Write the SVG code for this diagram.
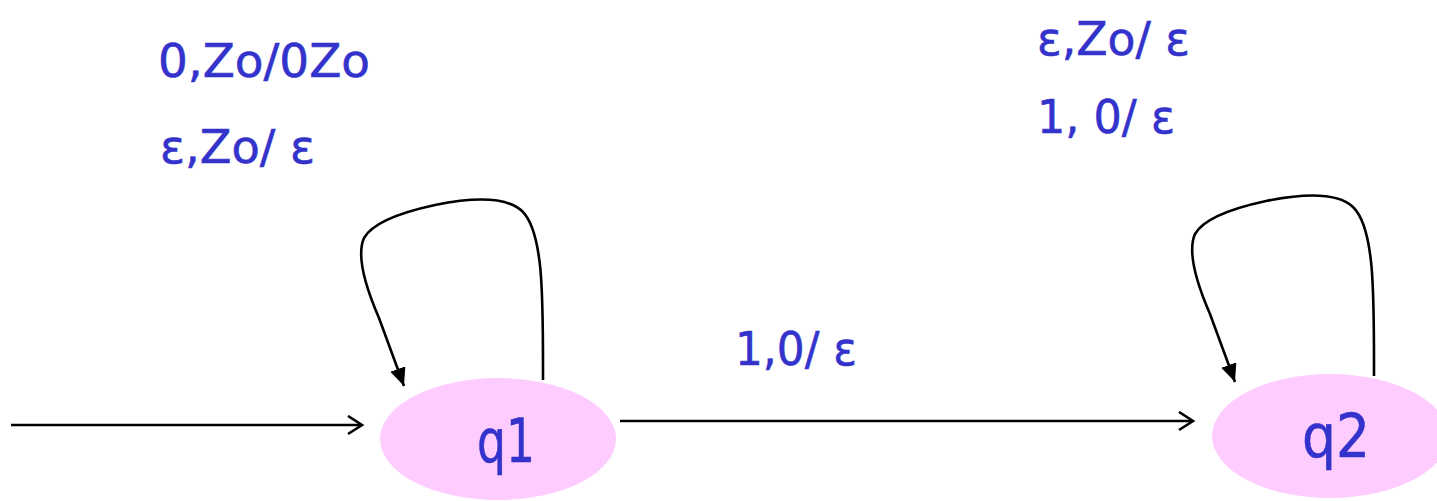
<svg xmlns="http://www.w3.org/2000/svg" width="1437" height="501" viewBox="0 0 1437 501">
<style>
.lbl{font-family:"DejaVu Sans",sans-serif;fill:#3333CC;stroke:#3333CC;stroke-width:0.6;font-size:47px}
.st{font-family:"DejaVu Sans",sans-serif;fill:#3333CC;stroke:#3333CC;stroke-width:0.6;font-size:60px}
.node{fill:#FFCCFF;stroke:none}
.edge{fill:none;stroke:#000;stroke-width:2.6}
</style>
<defs>
<marker id="open" markerUnits="userSpaceOnUse" markerWidth="20" markerHeight="22" refX="16" refY="10" orient="auto">
<path d="M2,1 L16,10 L2,19" fill="none" stroke="#000" stroke-width="2.6"/>
</marker>
<marker id="fill" markerUnits="userSpaceOnUse" markerWidth="20" markerHeight="18" refX="18" refY="8" orient="auto">
<path d="M0,0 L18,8 L0,16 Z" fill="#000"/>
</marker>
</defs>
<g id="q1">
<ellipse class="node" cx="498" cy="439" rx="118" ry="61"/>
<text class="st" x="506" y="462" text-anchor="middle" textLength="58" lengthAdjust="spacingAndGlyphs">q1</text>
</g>
<g id="q2">
<ellipse class="node" cx="1330" cy="436" rx="118" ry="62"/>
<text class="st" x="1336" y="457" text-anchor="middle" textLength="68" lengthAdjust="spacingAndGlyphs">q2</text>
</g>
<g id="connectors">
<line class="edge" x1="11" y1="425" x2="362" y2="425" marker-end="url(#open)"/>
<line class="edge" x1="620" y1="421" x2="1193" y2="421" marker-end="url(#open)"/>
<path class="edge" d="M543,380 C543,300 544,232 522,211 C507,197 475,197 435,205 C398,213 372,224 364,238 C356,256 366,288 379,318 L404,386" marker-end="url(#fill)"/>
<path class="edge" d="M1374,376 C1374,296 1375,228 1353,207 C1338,193 1306,193 1266,201 C1229,209 1203,220 1195,234 C1187,252 1197,284 1210,314 L1235,382" marker-end="url(#fill)"/>
</g>
<g id="labels">
<text class="lbl" x="158" y="77" textLength="212" lengthAdjust="spacingAndGlyphs">0,Zo/0Zo</text>
<text class="lbl" x="160" y="163" textLength="155" lengthAdjust="spacingAndGlyphs">ε,Zo/ ε</text>
<text class="lbl" x="1037" y="55" textLength="153" lengthAdjust="spacingAndGlyphs">ε,Zo/ ε</text>
<text class="lbl" x="1037" y="133" textLength="138" lengthAdjust="spacingAndGlyphs">1, 0/ ε</text>
<text class="lbl" x="735" y="365" textLength="122" lengthAdjust="spacingAndGlyphs">1,0/ ε</text>
</g>
</svg>
